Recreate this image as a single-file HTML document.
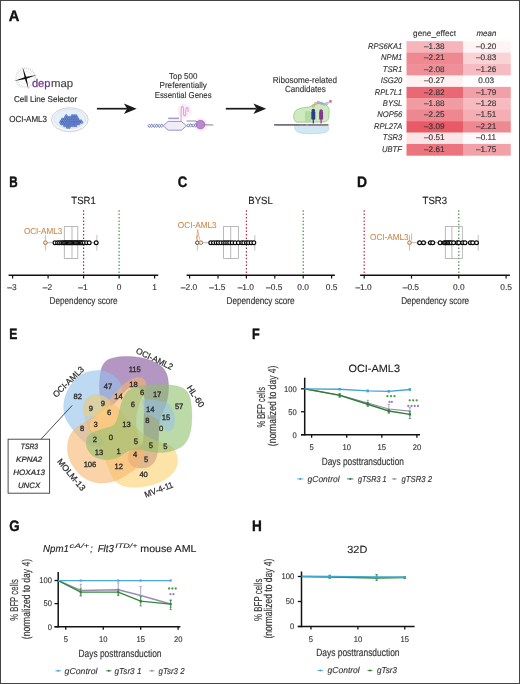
<!DOCTYPE html>
<html><head><meta charset="utf-8"><title>Figure</title>
<style>
html,body{margin:0;padding:0;background:#fff;}
body{width:520px;height:684px;overflow:hidden;}
svg{display:block;will-change:transform;text-rendering:geometricPrecision;font-family:"Liberation Sans",sans-serif;}
</style></head><body>
<svg width="520" height="684" viewBox="0 0 520 684">
<rect x="0" y="0" width="520" height="684" fill="#fff"/>
<text font-size="15.10" font-weight="bold" fill="#111" stroke="#111" stroke-width="0.359" transform="translate(8.70 20.70) scale(0.9750 1)">A</text>
<circle cx="25.6" cy="77.6" r="9.3" fill="none" stroke="#d0d0d0" stroke-width="2.0" stroke-dasharray="0.8 1.3"/>
<circle cx="25.6" cy="77.6" r="6.5" fill="none" stroke="#e2e2e2" stroke-width="0.6"/>
<path d="M16.6,82.6 a10,10 0 0 0 6,5" fill="none" stroke="#d5ece6" stroke-width="1.0"/>
<path d="M14.00,81.00 L25.64,78.92 L36.80,75.00 L25.16,77.08Z" fill="#111"/>
<path d="M22.60,67.00 L24.68,78.35 L28.60,89.20 L26.52,77.85Z" fill="#111"/>
<text font-size="11.20" fill="#6f3691" stroke="#6f3691" stroke-width="0.250" transform="translate(31.90 87.30) scale(0.9998 1)">dep</text>
<text font-size="11.20" fill="#4a4a4a" stroke="#4a4a4a" stroke-width="0.196" transform="translate(51.00 87.30) scale(1.0191 1)">map</text>
<text font-size="8.50" fill="#333" stroke="#333" stroke-width="0.189" transform="translate(13.90 101.60) scale(0.9499 1)">Cell Line Selector</text>
<text font-size="8.70" fill="#333" stroke="#333" stroke-width="0.196" transform="translate(9.20 121.90) scale(0.9195 1)">OCI-AML3</text>
<ellipse cx="69.8" cy="119.7" rx="18.4" ry="12.0" fill="#f4f6f8" stroke="#cdd3d8" stroke-width="1.0"/>
<ellipse cx="69.8" cy="119.0" rx="16.0" ry="9.6" fill="#e6f0fa" stroke="#d5dde5" stroke-width="0.7"/>
<circle cx="66.30" cy="115.60" r="1.0" fill="#86a2e2" stroke="#2f4da5" stroke-width="0.5"/>
<circle cx="72.15" cy="115.60" r="1.0" fill="#86a2e2" stroke="#2f4da5" stroke-width="0.5"/>
<circle cx="74.10" cy="115.60" r="1.0" fill="#86a2e2" stroke="#2f4da5" stroke-width="0.5"/>
<circle cx="76.05" cy="115.60" r="1.0" fill="#86a2e2" stroke="#2f4da5" stroke-width="0.5"/>
<circle cx="65.32" cy="117.30" r="1.0" fill="#86a2e2" stroke="#2f4da5" stroke-width="0.5"/>
<circle cx="67.27" cy="117.30" r="1.0" fill="#86a2e2" stroke="#2f4da5" stroke-width="0.5"/>
<circle cx="69.22" cy="117.30" r="1.0" fill="#86a2e2" stroke="#2f4da5" stroke-width="0.5"/>
<circle cx="71.17" cy="117.30" r="1.0" fill="#86a2e2" stroke="#2f4da5" stroke-width="0.5"/>
<circle cx="73.12" cy="117.30" r="1.0" fill="#86a2e2" stroke="#2f4da5" stroke-width="0.5"/>
<circle cx="75.07" cy="117.30" r="1.0" fill="#86a2e2" stroke="#2f4da5" stroke-width="0.5"/>
<circle cx="77.02" cy="117.30" r="1.0" fill="#86a2e2" stroke="#2f4da5" stroke-width="0.5"/>
<circle cx="62.40" cy="119.00" r="1.0" fill="#86a2e2" stroke="#2f4da5" stroke-width="0.5"/>
<circle cx="64.35" cy="119.00" r="1.0" fill="#86a2e2" stroke="#2f4da5" stroke-width="0.5"/>
<circle cx="66.30" cy="119.00" r="1.0" fill="#86a2e2" stroke="#2f4da5" stroke-width="0.5"/>
<circle cx="68.25" cy="119.00" r="1.0" fill="#86a2e2" stroke="#2f4da5" stroke-width="0.5"/>
<circle cx="70.20" cy="119.00" r="1.0" fill="#86a2e2" stroke="#2f4da5" stroke-width="0.5"/>
<circle cx="72.15" cy="119.00" r="1.0" fill="#86a2e2" stroke="#2f4da5" stroke-width="0.5"/>
<circle cx="74.10" cy="119.00" r="1.0" fill="#86a2e2" stroke="#2f4da5" stroke-width="0.5"/>
<circle cx="76.05" cy="119.00" r="1.0" fill="#86a2e2" stroke="#2f4da5" stroke-width="0.5"/>
<circle cx="78.00" cy="119.00" r="1.0" fill="#86a2e2" stroke="#2f4da5" stroke-width="0.5"/>
<circle cx="61.43" cy="120.70" r="1.0" fill="#86a2e2" stroke="#2f4da5" stroke-width="0.5"/>
<circle cx="63.38" cy="120.70" r="1.0" fill="#86a2e2" stroke="#2f4da5" stroke-width="0.5"/>
<circle cx="65.32" cy="120.70" r="1.0" fill="#86a2e2" stroke="#2f4da5" stroke-width="0.5"/>
<circle cx="67.27" cy="120.70" r="1.0" fill="#86a2e2" stroke="#2f4da5" stroke-width="0.5"/>
<circle cx="69.22" cy="120.70" r="1.0" fill="#86a2e2" stroke="#2f4da5" stroke-width="0.5"/>
<circle cx="71.17" cy="120.70" r="1.0" fill="#86a2e2" stroke="#2f4da5" stroke-width="0.5"/>
<circle cx="73.12" cy="120.70" r="1.0" fill="#86a2e2" stroke="#2f4da5" stroke-width="0.5"/>
<circle cx="75.07" cy="120.70" r="1.0" fill="#86a2e2" stroke="#2f4da5" stroke-width="0.5"/>
<circle cx="77.02" cy="120.70" r="1.0" fill="#86a2e2" stroke="#2f4da5" stroke-width="0.5"/>
<circle cx="78.97" cy="120.70" r="1.0" fill="#86a2e2" stroke="#2f4da5" stroke-width="0.5"/>
<circle cx="80.92" cy="120.70" r="1.0" fill="#86a2e2" stroke="#2f4da5" stroke-width="0.5"/>
<circle cx="60.45" cy="122.40" r="1.0" fill="#86a2e2" stroke="#2f4da5" stroke-width="0.5"/>
<circle cx="62.40" cy="122.40" r="1.0" fill="#86a2e2" stroke="#2f4da5" stroke-width="0.5"/>
<circle cx="64.35" cy="122.40" r="1.0" fill="#86a2e2" stroke="#2f4da5" stroke-width="0.5"/>
<circle cx="66.30" cy="122.40" r="1.0" fill="#86a2e2" stroke="#2f4da5" stroke-width="0.5"/>
<circle cx="68.25" cy="122.40" r="1.0" fill="#86a2e2" stroke="#2f4da5" stroke-width="0.5"/>
<circle cx="70.20" cy="122.40" r="1.0" fill="#86a2e2" stroke="#2f4da5" stroke-width="0.5"/>
<circle cx="72.15" cy="122.40" r="1.0" fill="#86a2e2" stroke="#2f4da5" stroke-width="0.5"/>
<circle cx="74.10" cy="122.40" r="1.0" fill="#86a2e2" stroke="#2f4da5" stroke-width="0.5"/>
<circle cx="76.05" cy="122.40" r="1.0" fill="#86a2e2" stroke="#2f4da5" stroke-width="0.5"/>
<circle cx="78.00" cy="122.40" r="1.0" fill="#86a2e2" stroke="#2f4da5" stroke-width="0.5"/>
<circle cx="79.95" cy="122.40" r="1.0" fill="#86a2e2" stroke="#2f4da5" stroke-width="0.5"/>
<circle cx="81.90" cy="122.40" r="1.0" fill="#86a2e2" stroke="#2f4da5" stroke-width="0.5"/>
<circle cx="61.43" cy="124.10" r="1.0" fill="#86a2e2" stroke="#2f4da5" stroke-width="0.5"/>
<circle cx="63.38" cy="124.10" r="1.0" fill="#86a2e2" stroke="#2f4da5" stroke-width="0.5"/>
<circle cx="65.32" cy="124.10" r="1.0" fill="#86a2e2" stroke="#2f4da5" stroke-width="0.5"/>
<circle cx="67.27" cy="124.10" r="1.0" fill="#86a2e2" stroke="#2f4da5" stroke-width="0.5"/>
<circle cx="69.22" cy="124.10" r="1.0" fill="#86a2e2" stroke="#2f4da5" stroke-width="0.5"/>
<circle cx="71.17" cy="124.10" r="1.0" fill="#86a2e2" stroke="#2f4da5" stroke-width="0.5"/>
<circle cx="73.12" cy="124.10" r="1.0" fill="#86a2e2" stroke="#2f4da5" stroke-width="0.5"/>
<circle cx="75.07" cy="124.10" r="1.0" fill="#86a2e2" stroke="#2f4da5" stroke-width="0.5"/>
<circle cx="77.02" cy="124.10" r="1.0" fill="#86a2e2" stroke="#2f4da5" stroke-width="0.5"/>
<circle cx="78.97" cy="124.10" r="1.0" fill="#86a2e2" stroke="#2f4da5" stroke-width="0.5"/>
<circle cx="64.35" cy="125.80" r="1.0" fill="#86a2e2" stroke="#2f4da5" stroke-width="0.5"/>
<circle cx="66.30" cy="125.80" r="1.0" fill="#86a2e2" stroke="#2f4da5" stroke-width="0.5"/>
<circle cx="68.25" cy="125.80" r="1.0" fill="#86a2e2" stroke="#2f4da5" stroke-width="0.5"/>
<circle cx="70.20" cy="125.80" r="1.0" fill="#86a2e2" stroke="#2f4da5" stroke-width="0.5"/>
<circle cx="72.15" cy="125.80" r="1.0" fill="#86a2e2" stroke="#2f4da5" stroke-width="0.5"/>
<circle cx="74.10" cy="125.80" r="1.0" fill="#86a2e2" stroke="#2f4da5" stroke-width="0.5"/>
<circle cx="76.05" cy="125.80" r="1.0" fill="#86a2e2" stroke="#2f4da5" stroke-width="0.5"/>
<circle cx="67.27" cy="127.50" r="1.0" fill="#86a2e2" stroke="#2f4da5" stroke-width="0.5"/>
<circle cx="69.22" cy="127.50" r="1.0" fill="#86a2e2" stroke="#2f4da5" stroke-width="0.5"/>
<line x1="96.9" y1="108.7" x2="126.89999999999999" y2="108.7" stroke="#1a1a1a" stroke-width="1.7"/><path d="M136.7,108.7 L123.89999999999999,103.4 L127.1,108.7 L123.89999999999999,114.0 Z" fill="#1a1a1a"/>
<line x1="225.8" y1="108.7" x2="256.4" y2="108.7" stroke="#1a1a1a" stroke-width="1.7"/><path d="M266.2,108.7 L253.39999999999998,103.4 L256.59999999999997,108.7 L253.39999999999998,114.0 Z" fill="#1a1a1a"/>
<text font-size="8.60" fill="#333" stroke="#333" stroke-width="0.129" transform="translate(169.00 78.50) scale(0.9309 1)">Top 500</text>
<text font-size="8.60" fill="#333" stroke="#333" stroke-width="0.127" transform="translate(159.50 88.20) scale(0.9446 1)">Preferentially</text>
<text font-size="8.60" fill="#333" stroke="#333" stroke-width="0.132" transform="translate(154.70 98.00) scale(0.9088 1)">Essential Genes</text>
<circle cx="184.5" cy="111.0" r="7.2" fill="#faeef8"/>
<circle cx="200.5" cy="124.6" r="6.5" fill="#f6e8f5"/>
<polyline points="148.00,125.80 148.33,126.45 148.67,126.99 149.00,127.32 149.33,127.39 149.67,127.19 150.00,126.74 150.33,126.13 150.67,125.47 151.00,124.86 151.33,124.41 151.67,124.21 152.00,124.28 152.33,124.61 152.67,125.15 153.00,125.80 153.33,126.45 153.67,126.99 154.00,127.32 154.33,127.39 154.67,127.19 155.00,126.74 155.33,126.13 155.67,125.47 156.00,124.86 156.33,124.41 156.67,124.21 157.00,124.28 157.33,124.61 157.67,125.15 158.00,125.80 158.33,126.45 158.67,126.99 159.00,127.32 159.33,127.39 159.67,127.19 160.00,126.74 160.33,126.13 160.67,125.47 161.00,124.86 161.33,124.41 161.67,124.21 162.00,124.28 162.33,124.61 162.67,125.15 163.00,125.80" fill="none" stroke="#4f5f9c" stroke-width="0.9"/><polyline points="148.00,125.80 148.33,125.15 148.67,124.61 149.00,124.28 149.33,124.21 149.67,124.41 150.00,124.86 150.33,125.47 150.67,126.13 151.00,126.74 151.33,127.19 151.67,127.39 152.00,127.32 152.33,126.99 152.67,126.45 153.00,125.80 153.33,125.15 153.67,124.61 154.00,124.28 154.33,124.21 154.67,124.41 155.00,124.86 155.33,125.47 155.67,126.13 156.00,126.74 156.33,127.19 156.67,127.39 157.00,127.32 157.33,126.99 157.67,126.45 158.00,125.80 158.33,125.15 158.67,124.61 159.00,124.28 159.33,124.21 159.67,124.41 160.00,124.86 160.33,125.47 160.67,126.13 161.00,126.74 161.33,127.19 161.67,127.39 162.00,127.32 162.33,126.99 162.67,126.45 163.00,125.80" fill="none" stroke="#7d85c0" stroke-width="0.9"/>
<polyline points="187.00,125.40 187.33,126.05 187.67,126.59 188.00,126.92 188.33,126.99 188.67,126.79 189.00,126.34 189.33,125.73 189.67,125.07 190.00,124.46 190.33,124.01 190.67,123.81 191.00,123.88 191.33,124.21 191.67,124.75 192.00,125.40 192.33,126.05 192.67,126.59 193.00,126.92 193.33,126.99 193.67,126.79 194.00,126.34 194.33,125.73 194.67,125.07 195.00,124.46 195.33,124.01 195.67,123.81 196.00,123.88 196.33,124.21 196.67,124.75 197.00,125.40" fill="none" stroke="#4f5f9c" stroke-width="0.9"/><polyline points="187.00,125.40 187.33,124.75 187.67,124.21 188.00,123.88 188.33,123.81 188.67,124.01 189.00,124.46 189.33,125.07 189.67,125.73 190.00,126.34 190.33,126.79 190.67,126.99 191.00,126.92 191.33,126.59 191.67,126.05 192.00,125.40 192.33,124.75 192.67,124.21 193.00,123.88 193.33,123.81 193.67,124.01 194.00,124.46 194.33,125.07 194.67,125.73 195.00,126.34 195.33,126.79 195.67,126.99 196.00,126.92 196.33,126.59 196.67,126.05 197.00,125.40" fill="none" stroke="#7d85c0" stroke-width="0.9"/>
<path d="M163.2,125.8 L168.2,121.4 L181.4,121.4 L186.6,125.8 L181.4,130.2 L168.2,130.2 Z" fill="#f1edf8" stroke="#8f86b5" stroke-width="0.9"/>
<line x1="168.2" y1="118.4" x2="179.0" y2="118.4" stroke="#a99cc6" stroke-width="1.6"/>
<path d="M181.0,121.0 L181.2,108.5 C181.4,105.6 183.4,105.6 183.5,108.5 L183.6,114 C183.7,116.5 185.6,116.5 185.7,114 L185.8,109.5 C186,107 188,107 188.1,109.5 L188.2,112" fill="none" stroke="#dca3d4" stroke-width="1.1"/>
<path d="M186.6,121.0 L195.5,121.0 L200,123" fill="none" stroke="#6f6f8f" stroke-width="0.8"/>
<line x1="203" y1="124.8" x2="213.3" y2="125.0" stroke="#7a6a9a" stroke-width="0.9"/>
<circle cx="200.5" cy="124.6" r="4.1" fill="#b889cf" stroke="#9b63b8" stroke-width="0.8"/>
<text font-size="8.80" fill="#333" stroke="#333" stroke-width="0.130" transform="translate(272.70 83.20) scale(0.9255 1)">Ribosome-related</text>
<text font-size="8.80" fill="#333" stroke="#333" stroke-width="0.131" transform="translate(285.00 92.40) scale(0.9163 1)">Candidates</text>
<path d="M295,124.8 C293.5,128.5 296,132.8 302,133.2 C309,134 319,133.8 325,132.6 C329.5,131.5 329.5,126.5 327,124.8 Z" fill="#cfe8f2" stroke="#aed4e4" stroke-width="0.7"/>
<path d="M294.2,119.5 C292.5,114 295,109.5 300,108.6 C304,107.2 308.5,107.6 311,106.3 C313.5,103.4 320,102.4 324.5,104 C329,105.8 330,110.5 328.8,114.5 C329.5,118.5 327.5,121.6 324,122 L297,122.2 C295.5,121.8 294.6,120.8 294.2,119.5 Z" fill="#cfeac0" stroke="#93c884" stroke-width="0.8"/>
<rect x="305.3" y="111.8" width="5.2" height="9.6" fill="#b3dca2" stroke="#9fd08e" stroke-width="0.4"/>
<line x1="274" y1="124.9" x2="328.5" y2="124.9" stroke="#857a88" stroke-width="1.6"/>
<line x1="301" y1="124.0" x2="301" y2="125.8" stroke="#e05a6a" stroke-width="1.1"/>
<line x1="304" y1="124.0" x2="304" y2="125.8" stroke="#4a6fc0" stroke-width="1.1"/>
<line x1="307" y1="124.0" x2="307" y2="125.8" stroke="#e8a040" stroke-width="1.1"/>
<line x1="310" y1="124.0" x2="310" y2="125.8" stroke="#9c5bb0" stroke-width="1.1"/>
<line x1="313" y1="124.0" x2="313" y2="125.8" stroke="#e05a6a" stroke-width="1.1"/>
<line x1="316" y1="124.0" x2="316" y2="125.8" stroke="#4a9fd0" stroke-width="1.1"/>
<line x1="319" y1="124.0" x2="319" y2="125.8" stroke="#e06080" stroke-width="1.1"/>
<line x1="322" y1="124.0" x2="322" y2="125.8" stroke="#6aa050" stroke-width="1.1"/>
<line x1="325" y1="124.0" x2="325" y2="125.8" stroke="#e05a6a" stroke-width="1.1"/>
<line x1="276" y1="124.2" x2="277" y2="125.7" stroke="#5a5060" stroke-width="0.6"/>
<line x1="278" y1="124.2" x2="279" y2="125.7" stroke="#5a5060" stroke-width="0.6"/>
<line x1="280" y1="124.2" x2="281" y2="125.7" stroke="#5a5060" stroke-width="0.6"/>
<line x1="282" y1="124.2" x2="283" y2="125.7" stroke="#5a5060" stroke-width="0.6"/>
<line x1="284" y1="124.2" x2="285" y2="125.7" stroke="#5a5060" stroke-width="0.6"/>
<line x1="286" y1="124.2" x2="287" y2="125.7" stroke="#5a5060" stroke-width="0.6"/>
<line x1="288" y1="124.2" x2="289" y2="125.7" stroke="#5a5060" stroke-width="0.6"/>
<line x1="290" y1="124.2" x2="291" y2="125.7" stroke="#5a5060" stroke-width="0.6"/>
<line x1="292" y1="124.2" x2="293" y2="125.7" stroke="#5a5060" stroke-width="0.6"/>
<line x1="294" y1="124.2" x2="295" y2="125.7" stroke="#5a5060" stroke-width="0.6"/>
<line x1="296" y1="124.2" x2="297" y2="125.7" stroke="#5a5060" stroke-width="0.6"/>
<line x1="298" y1="124.2" x2="299" y2="125.7" stroke="#5a5060" stroke-width="0.6"/>
<rect x="311.3" y="111.2" width="4.0" height="8.6" rx="1" fill="#2d3b8c"/>
<circle cx="313.3" cy="110.6" r="1.8" fill="#2d3b8c"/>
<line x1="313.3" y1="119.5" x2="313.3" y2="123.5" stroke="#2d3b8c" stroke-width="1.2"/>
<rect x="319.1" y="111.6" width="4.0" height="8.2" rx="1" fill="#86388f"/>
<circle cx="321.1" cy="111.0" r="1.8" fill="#86388f"/>
<line x1="321.1" y1="119.5" x2="321.1" y2="123.5" stroke="#86388f" stroke-width="1.2"/>
<line x1="313.3" y1="106.0" x2="315.6" y2="103.6" stroke="#9a9aaa" stroke-width="0.5"/>
<line x1="315.6" y1="103.6" x2="318.3" y2="102.4" stroke="#9a9aaa" stroke-width="0.5"/>
<line x1="318.3" y1="102.4" x2="321.5" y2="103.2" stroke="#9a9aaa" stroke-width="0.5"/>
<line x1="321.5" y1="103.2" x2="324.2" y2="104.2" stroke="#9a9aaa" stroke-width="0.5"/>
<line x1="324.2" y1="104.2" x2="327.0" y2="103.4" stroke="#9a9aaa" stroke-width="0.5"/>
<line x1="327.0" y1="103.4" x2="330.4" y2="101.4" stroke="#9a9aaa" stroke-width="0.5"/>
<circle cx="313.3" cy="106.0" r="1.3" fill="#e8d24a" stroke="#8a7a9a" stroke-width="0.3"/>
<circle cx="315.6" cy="103.6" r="1.3" fill="#e8d24a" stroke="#8a7a9a" stroke-width="0.3"/>
<circle cx="318.3" cy="102.4" r="1.3" fill="#c9a6e0" stroke="#8a7a9a" stroke-width="0.3"/>
<circle cx="321.5" cy="103.2" r="1.3" fill="#9db6e8" stroke="#8a7a9a" stroke-width="0.3"/>
<circle cx="324.2" cy="104.2" r="1.3" fill="#a7d8a0" stroke="#8a7a9a" stroke-width="0.3"/>
<circle cx="327.0" cy="103.4" r="1.3" fill="#bfd4ef" stroke="#8a7a9a" stroke-width="0.3"/>
<circle cx="330.4" cy="101.4" r="1.3" fill="#e46aa6" stroke="#8a7a9a" stroke-width="0.3"/>
<rect x="406.5" y="41.20" width="56.80" height="11.72" fill="#f5b5bb"/>
<rect x="463.0" y="41.20" width="47.80" height="11.72" fill="#fef4f5"/>
<rect x="406.5" y="52.62" width="56.80" height="11.72" fill="#ee8992"/>
<rect x="463.0" y="52.62" width="47.80" height="11.72" fill="#f9d3d6"/>
<rect x="406.5" y="64.04" width="56.80" height="11.72" fill="#ef9098"/>
<rect x="463.0" y="64.04" width="47.80" height="11.72" fill="#f6bcc1"/>
<rect x="406.5" y="75.46" width="56.80" height="11.72" fill="#fdf1f2"/>
<rect x="463.0" y="75.46" width="47.80" height="11.72" fill="#ffffff"/>
<rect x="406.5" y="86.88" width="56.80" height="11.72" fill="#ea6874"/>
<rect x="463.0" y="86.88" width="47.80" height="11.72" fill="#f29fa7"/>
<rect x="406.5" y="98.30" width="56.80" height="11.72" fill="#f19ba2"/>
<rect x="463.0" y="98.30" width="47.80" height="11.72" fill="#f5bbc0"/>
<rect x="406.5" y="109.72" width="56.80" height="11.72" fill="#ee8790"/>
<rect x="463.0" y="109.72" width="47.80" height="11.72" fill="#f4aeb4"/>
<rect x="406.5" y="121.14" width="56.80" height="11.72" fill="#e85a66"/>
<rect x="463.0" y="121.14" width="47.80" height="11.72" fill="#ee8992"/>
<rect x="406.5" y="132.56" width="56.80" height="11.72" fill="#fbe4e6"/>
<rect x="463.0" y="132.56" width="47.80" height="11.72" fill="#fef9fa"/>
<rect x="406.5" y="143.98" width="56.80" height="11.72" fill="#eb747e"/>
<rect x="463.0" y="143.98" width="47.80" height="11.72" fill="#f2a1a9"/>
<text font-size="8.20" font-style="italic" fill="#333" stroke="#333" stroke-width="0.129" transform="translate(367.94 48.90) scale(0.9300 1)">RPS6KA1</text>
<text font-size="8.20" fill="#333" stroke="#333" stroke-width="0.120" transform="translate(424.03 48.90) scale(1.0000 1)">–1.38</text>
<text font-size="8.20" fill="#333" stroke="#333" stroke-width="0.120" transform="translate(475.93 48.90) scale(1.0000 1)">–0.20</text>
<text font-size="8.20" font-style="italic" fill="#333" stroke="#333" stroke-width="0.129" transform="translate(381.10 60.32) scale(0.9300 1)">NPM1</text>
<text font-size="8.20" fill="#333" stroke="#333" stroke-width="0.120" transform="translate(424.03 60.32) scale(1.0000 1)">–2.21</text>
<text font-size="8.20" fill="#333" stroke="#333" stroke-width="0.120" transform="translate(475.93 60.32) scale(1.0000 1)">–0.83</text>
<text font-size="8.20" font-style="italic" fill="#333" stroke="#333" stroke-width="0.129" transform="translate(382.82 71.74) scale(0.9300 1)">TSR1</text>
<text font-size="8.20" fill="#333" stroke="#333" stroke-width="0.120" transform="translate(424.03 71.74) scale(1.0000 1)">–2.08</text>
<text font-size="8.20" fill="#333" stroke="#333" stroke-width="0.120" transform="translate(475.93 71.74) scale(1.0000 1)">–1.26</text>
<text font-size="8.20" font-style="italic" fill="#333" stroke="#333" stroke-width="0.129" transform="translate(380.68 83.16) scale(0.9300 1)">ISG20</text>
<text font-size="8.20" fill="#333" stroke="#333" stroke-width="0.120" transform="translate(424.03 83.16) scale(1.0000 1)">–0.27</text>
<text font-size="8.20" fill="#333" stroke="#333" stroke-width="0.120" transform="translate(478.23 83.16) scale(1.0000 1)">0.03</text>
<text font-size="8.20" font-style="italic" fill="#333" stroke="#333" stroke-width="0.129" transform="translate(374.73 94.58) scale(0.9300 1)">RPL7L1</text>
<text font-size="8.20" fill="#333" stroke="#333" stroke-width="0.120" transform="translate(424.03 94.58) scale(1.0000 1)">–2.82</text>
<text font-size="8.20" fill="#333" stroke="#333" stroke-width="0.120" transform="translate(475.93 94.58) scale(1.0000 1)">–1.79</text>
<text font-size="8.20" font-style="italic" fill="#333" stroke="#333" stroke-width="0.129" transform="translate(382.82 106.00) scale(0.9300 1)">BYSL</text>
<text font-size="8.20" fill="#333" stroke="#333" stroke-width="0.120" transform="translate(424.03 106.00) scale(1.0000 1)">–1.88</text>
<text font-size="8.20" fill="#333" stroke="#333" stroke-width="0.120" transform="translate(475.93 106.00) scale(1.0000 1)">–1.28</text>
<text font-size="8.20" font-style="italic" fill="#333" stroke="#333" stroke-width="0.129" transform="translate(377.25 117.42) scale(0.9300 1)">NOP56</text>
<text font-size="8.20" fill="#333" stroke="#333" stroke-width="0.120" transform="translate(424.03 117.42) scale(1.0000 1)">–2.25</text>
<text font-size="8.20" fill="#333" stroke="#333" stroke-width="0.120" transform="translate(475.93 117.42) scale(1.0000 1)">–1.51</text>
<text font-size="8.20" font-style="italic" fill="#333" stroke="#333" stroke-width="0.129" transform="translate(373.89 128.84) scale(0.9300 1)">RPL27A</text>
<text font-size="8.20" fill="#333" stroke="#333" stroke-width="0.120" transform="translate(424.03 128.84) scale(1.0000 1)">–3.09</text>
<text font-size="8.20" fill="#333" stroke="#333" stroke-width="0.120" transform="translate(475.93 128.84) scale(1.0000 1)">–2.21</text>
<text font-size="8.20" font-style="italic" fill="#333" stroke="#333" stroke-width="0.129" transform="translate(382.82 140.26) scale(0.9300 1)">TSR3</text>
<text font-size="8.20" fill="#333" stroke="#333" stroke-width="0.120" transform="translate(424.03 140.26) scale(1.0000 1)">–0.51</text>
<text font-size="8.20" fill="#333" stroke="#333" stroke-width="0.120" transform="translate(476.24 140.26) scale(1.0000 1)">–0.11</text>
<text font-size="8.20" font-style="italic" fill="#333" stroke="#333" stroke-width="0.129" transform="translate(382.01 151.68) scale(0.9300 1)">UBTF</text>
<text font-size="8.20" fill="#333" stroke="#333" stroke-width="0.120" transform="translate(424.03 151.68) scale(1.0000 1)">–2.61</text>
<text font-size="8.20" fill="#333" stroke="#333" stroke-width="0.120" transform="translate(475.93 151.68) scale(1.0000 1)">–1.75</text>
<text font-size="8.20" fill="#333" stroke="#333" stroke-width="0.120" transform="translate(413.10 35.60) scale(1.0042 1)">gene_effect</text>
<text font-size="8.20" font-style="italic" fill="#333" stroke="#333" stroke-width="0.124" transform="translate(476.50 35.60) scale(0.9659 1)">mean</text>
<text font-size="15.10" font-weight="bold" fill="#111" stroke="#111" stroke-width="0.453" transform="translate(9.20 187.10) scale(0.7726 1)">B</text>
<text font-size="10.40" fill="#222" stroke="#222" stroke-width="0.130" transform="translate(71.35 203.60) scale(0.9220 1)">TSR1</text>
<line x1="83.60" y1="210.2" x2="83.60" y2="275.3" stroke="#b3213d" stroke-width="1.15" stroke-dasharray="1.5 1.9"/>
<line x1="119.10" y1="210.2" x2="119.10" y2="275.3" stroke="#3d8b3d" stroke-width="1.15" stroke-dasharray="1.5 1.9"/>
<rect x="64.3" y="226.6" width="13.5" height="31.900000000000006" fill="none" stroke="#a8a8a8" stroke-width="0.8"/>
<line x1="72.0" y1="226.6" x2="72.0" y2="258.5" stroke="#a8a8a8" stroke-width="0.8"/>
<line x1="45.4" y1="242.7" x2="96.9" y2="242.7" stroke="#9a9a9a" stroke-width="0.7"/>
<line x1="45.4" y1="235" x2="45.4" y2="250.6" stroke="#a5a5a5" stroke-width="0.7"/>
<line x1="96.9" y1="235" x2="96.9" y2="250.6" stroke="#a5a5a5" stroke-width="0.7"/>
<circle cx="55.0" cy="242.7" r="1.9" fill="#fff" stroke="#0a0a0a" stroke-width="1.2"/>
<circle cx="57.6" cy="242.7" r="1.9" fill="#fff" stroke="#0a0a0a" stroke-width="1.2"/>
<circle cx="59.6" cy="242.7" r="1.9" fill="#fff" stroke="#0a0a0a" stroke-width="1.2"/>
<circle cx="61.6" cy="242.7" r="1.9" fill="#fff" stroke="#0a0a0a" stroke-width="1.2"/>
<circle cx="63.2" cy="242.7" r="1.9" fill="#fff" stroke="#0a0a0a" stroke-width="1.2"/>
<circle cx="64.6" cy="242.7" r="1.9" fill="#fff" stroke="#0a0a0a" stroke-width="1.2"/>
<circle cx="65.8" cy="242.7" r="1.9" fill="#fff" stroke="#0a0a0a" stroke-width="1.2"/>
<circle cx="67.0" cy="242.7" r="1.9" fill="#fff" stroke="#0a0a0a" stroke-width="1.2"/>
<circle cx="68.2" cy="242.7" r="1.9" fill="#fff" stroke="#0a0a0a" stroke-width="1.2"/>
<circle cx="69.4" cy="242.7" r="1.9" fill="#fff" stroke="#0a0a0a" stroke-width="1.2"/>
<circle cx="70.6" cy="242.7" r="1.9" fill="#fff" stroke="#0a0a0a" stroke-width="1.2"/>
<circle cx="71.8" cy="242.7" r="1.9" fill="#fff" stroke="#0a0a0a" stroke-width="1.2"/>
<circle cx="73.0" cy="242.7" r="1.9" fill="#fff" stroke="#0a0a0a" stroke-width="1.2"/>
<circle cx="74.2" cy="242.7" r="1.9" fill="#fff" stroke="#0a0a0a" stroke-width="1.2"/>
<circle cx="75.4" cy="242.7" r="1.9" fill="#fff" stroke="#0a0a0a" stroke-width="1.2"/>
<circle cx="76.6" cy="242.7" r="1.9" fill="#fff" stroke="#0a0a0a" stroke-width="1.2"/>
<circle cx="77.8" cy="242.7" r="1.9" fill="#fff" stroke="#0a0a0a" stroke-width="1.2"/>
<circle cx="79.0" cy="242.7" r="1.9" fill="#fff" stroke="#0a0a0a" stroke-width="1.2"/>
<circle cx="80.2" cy="242.7" r="1.9" fill="#fff" stroke="#0a0a0a" stroke-width="1.2"/>
<circle cx="81.4" cy="242.7" r="1.9" fill="#fff" stroke="#0a0a0a" stroke-width="1.2"/>
<circle cx="82.6" cy="242.7" r="1.9" fill="#fff" stroke="#0a0a0a" stroke-width="1.2"/>
<circle cx="84.2" cy="242.7" r="1.9" fill="#fff" stroke="#0a0a0a" stroke-width="1.2"/>
<circle cx="86.6" cy="242.7" r="1.9" fill="#fff" stroke="#0a0a0a" stroke-width="1.2"/>
<circle cx="89.2" cy="242.7" r="1.9" fill="#fff" stroke="#0a0a0a" stroke-width="1.2"/>
<circle cx="96.2" cy="242.7" r="1.9" fill="#fff" stroke="#0a0a0a" stroke-width="1.2"/>
<circle cx="45.4" cy="242.7" r="1.85" fill="#f6e6d6" stroke="#b5783f" stroke-width="1.0"/>
<text font-size="8.60" fill="#c98a4c" stroke="#c98a4c" stroke-width="0.085" transform="translate(23.90 233.60) scale(0.9450 1)">OCI-AML3</text>

<line x1="8.6" y1="275.3" x2="158.2" y2="275.3" stroke="#111" stroke-width="1.5"/>
<line x1="12.60" y1="275.3" x2="12.60" y2="278.6" stroke="#111" stroke-width="1.2"/>
<text font-size="8.40" fill="#333" stroke="#333" stroke-width="0.120" transform="translate(7.34 289.70) scale(1.0000 1)">–3</text>
<line x1="48.10" y1="275.3" x2="48.10" y2="278.6" stroke="#111" stroke-width="1.2"/>
<text font-size="8.40" fill="#333" stroke="#333" stroke-width="0.120" transform="translate(42.84 289.70) scale(1.0000 1)">–2</text>
<line x1="83.60" y1="275.3" x2="83.60" y2="278.6" stroke="#111" stroke-width="1.2"/>
<text font-size="8.40" fill="#333" stroke="#333" stroke-width="0.120" transform="translate(78.34 289.70) scale(1.0000 1)">–1</text>
<line x1="119.10" y1="275.3" x2="119.10" y2="278.6" stroke="#111" stroke-width="1.2"/>
<text font-size="8.40" fill="#333" stroke="#333" stroke-width="0.120" transform="translate(116.77 289.70) scale(1.0000 1)">0</text>
<line x1="154.60" y1="275.3" x2="154.60" y2="278.6" stroke="#111" stroke-width="1.2"/>
<text font-size="8.40" fill="#333" stroke="#333" stroke-width="0.120" transform="translate(152.27 289.70) scale(1.0000 1)">1</text>
<text font-size="10.00" fill="#333" stroke="#333" stroke-width="0.147" transform="translate(49.60 304.30) scale(0.8153 1)">Dependency score</text>
<text font-size="15.10" font-weight="bold" fill="#111" stroke="#111" stroke-width="0.401" transform="translate(177.80 187.10) scale(0.8738 1)">C</text>
<text font-size="10.40" fill="#222" stroke="#222" stroke-width="0.130" transform="translate(248.25 203.60) scale(0.9220 1)">BYSL</text>
<line x1="246.40" y1="210.2" x2="246.40" y2="275.3" stroke="#b3213d" stroke-width="1.15" stroke-dasharray="1.5 1.9"/>
<line x1="303.20" y1="210.2" x2="303.20" y2="275.3" stroke="#3d8b3d" stroke-width="1.15" stroke-dasharray="1.5 1.9"/>
<rect x="223.6" y="226.6" width="14.800000000000011" height="31.900000000000006" fill="none" stroke="#a8a8a8" stroke-width="0.8"/>
<line x1="230.7" y1="226.6" x2="230.7" y2="258.5" stroke="#a8a8a8" stroke-width="0.8"/>
<line x1="197.3" y1="242.7" x2="254.8" y2="242.7" stroke="#9a9a9a" stroke-width="0.7"/>
<line x1="197.3" y1="235" x2="197.3" y2="250.6" stroke="#a5a5a5" stroke-width="0.7"/>
<line x1="254.8" y1="235" x2="254.8" y2="250.6" stroke="#a5a5a5" stroke-width="0.7"/>
<circle cx="210.8" cy="242.7" r="1.9" fill="#fff" stroke="#0a0a0a" stroke-width="1.2"/>
<circle cx="213.5" cy="242.7" r="1.9" fill="#fff" stroke="#0a0a0a" stroke-width="1.2"/>
<circle cx="216.2" cy="242.7" r="1.9" fill="#fff" stroke="#0a0a0a" stroke-width="1.2"/>
<circle cx="218.4" cy="242.7" r="1.9" fill="#fff" stroke="#0a0a0a" stroke-width="1.2"/>
<circle cx="220.9" cy="242.7" r="1.9" fill="#fff" stroke="#0a0a0a" stroke-width="1.2"/>
<circle cx="223.6" cy="242.7" r="1.9" fill="#fff" stroke="#0a0a0a" stroke-width="1.2"/>
<circle cx="225.6" cy="242.7" r="1.9" fill="#fff" stroke="#0a0a0a" stroke-width="1.2"/>
<circle cx="227.7" cy="242.7" r="1.9" fill="#fff" stroke="#0a0a0a" stroke-width="1.2"/>
<circle cx="229.7" cy="242.7" r="1.9" fill="#fff" stroke="#0a0a0a" stroke-width="1.2"/>
<circle cx="232.2" cy="242.7" r="1.9" fill="#fff" stroke="#0a0a0a" stroke-width="1.2"/>
<circle cx="235.1" cy="242.7" r="1.9" fill="#fff" stroke="#0a0a0a" stroke-width="1.2"/>
<circle cx="238.4" cy="242.7" r="1.9" fill="#fff" stroke="#0a0a0a" stroke-width="1.2"/>
<circle cx="241.8" cy="242.7" r="1.9" fill="#fff" stroke="#0a0a0a" stroke-width="1.2"/>
<circle cx="243.8" cy="242.7" r="1.9" fill="#fff" stroke="#0a0a0a" stroke-width="1.2"/>
<circle cx="246.5" cy="242.7" r="1.9" fill="#fff" stroke="#0a0a0a" stroke-width="1.2"/>
<circle cx="248.5" cy="242.7" r="1.9" fill="#fff" stroke="#0a0a0a" stroke-width="1.2"/>
<circle cx="251.2" cy="242.7" r="1.9" fill="#fff" stroke="#0a0a0a" stroke-width="1.2"/>
<circle cx="253.9" cy="242.7" r="1.9" fill="#fff" stroke="#0a0a0a" stroke-width="1.2"/>
<text font-size="8.60" fill="#c98a4c" stroke="#c98a4c" stroke-width="0.084" transform="translate(177.80 228.20) scale(0.9573 1)">OCI-AML3</text>
<path d="M196.3,239.6 L197.7,229.6 L199.6,239.6" fill="none" stroke="#c58443" stroke-width="0.6"/><circle cx="197.3" cy="242.7" r="1.75" fill="#fff" stroke="#333" stroke-width="0.95"/><circle cx="200.8" cy="242.7" r="1.85" fill="#f6e6d6" stroke="#b5783f" stroke-width="1.0"/>
<line x1="186.6" y1="275.3" x2="334.9" y2="275.3" stroke="#111" stroke-width="1.5"/>
<line x1="189.60" y1="275.3" x2="189.60" y2="278.6" stroke="#111" stroke-width="1.2"/>
<text font-size="8.40" fill="#333" stroke="#333" stroke-width="0.120" transform="translate(180.83 289.70) scale(1.0000 1)">–2.0</text>
<line x1="218.00" y1="275.3" x2="218.00" y2="278.6" stroke="#111" stroke-width="1.2"/>
<text font-size="8.40" fill="#333" stroke="#333" stroke-width="0.120" transform="translate(209.23 289.70) scale(1.0000 1)">–1.5</text>
<line x1="246.40" y1="275.3" x2="246.40" y2="278.6" stroke="#111" stroke-width="1.2"/>
<text font-size="8.40" fill="#333" stroke="#333" stroke-width="0.120" transform="translate(237.63 289.70) scale(1.0000 1)">–1.0</text>
<line x1="274.80" y1="275.3" x2="274.80" y2="278.6" stroke="#111" stroke-width="1.2"/>
<text font-size="8.40" fill="#333" stroke="#333" stroke-width="0.120" transform="translate(266.03 289.70) scale(1.0000 1)">–0.5</text>
<line x1="303.20" y1="275.3" x2="303.20" y2="278.6" stroke="#111" stroke-width="1.2"/>
<text font-size="8.40" fill="#333" stroke="#333" stroke-width="0.120" transform="translate(297.36 289.70) scale(1.0000 1)">0.0</text>
<line x1="331.60" y1="275.3" x2="331.60" y2="278.6" stroke="#111" stroke-width="1.2"/>
<text font-size="8.40" fill="#333" stroke="#333" stroke-width="0.120" transform="translate(325.76 289.70) scale(1.0000 1)">0.5</text>
<text font-size="10.00" fill="#333" stroke="#333" stroke-width="0.147" transform="translate(226.60 304.30) scale(0.8153 1)">Dependency score</text>
<text font-size="15.10" font-weight="bold" fill="#111" stroke="#111" stroke-width="0.381" transform="translate(357.10 187.10) scale(0.9198 1)">D</text>
<text font-size="10.40" fill="#222" stroke="#222" stroke-width="0.130" transform="translate(422.55 203.60) scale(0.9220 1)">TSR3</text>
<line x1="364.20" y1="210.2" x2="364.20" y2="275.3" stroke="#b3213d" stroke-width="1.15" stroke-dasharray="1.5 1.9"/>
<line x1="458.80" y1="210.2" x2="458.80" y2="275.3" stroke="#3d8b3d" stroke-width="1.15" stroke-dasharray="1.5 1.9"/>
<rect x="445.3" y="226.6" width="17.0" height="31.900000000000006" fill="none" stroke="#a8a8a8" stroke-width="0.8"/>
<line x1="451.9" y1="226.6" x2="451.9" y2="258.5" stroke="#a8a8a8" stroke-width="0.8"/>
<line x1="409.5" y1="242.7" x2="478.2" y2="242.7" stroke="#9a9a9a" stroke-width="0.7"/>
<line x1="409.5" y1="235" x2="409.5" y2="250.6" stroke="#a5a5a5" stroke-width="0.7"/>
<line x1="478.2" y1="235" x2="478.2" y2="250.6" stroke="#a5a5a5" stroke-width="0.7"/>
<circle cx="419.6" cy="242.7" r="1.9" fill="#fff" stroke="#0a0a0a" stroke-width="1.2"/>
<circle cx="423.5" cy="242.7" r="1.9" fill="#fff" stroke="#0a0a0a" stroke-width="1.2"/>
<circle cx="430.4" cy="242.7" r="1.9" fill="#fff" stroke="#0a0a0a" stroke-width="1.2"/>
<circle cx="432.7" cy="242.7" r="1.9" fill="#fff" stroke="#0a0a0a" stroke-width="1.2"/>
<circle cx="440.1" cy="242.7" r="1.9" fill="#fff" stroke="#0a0a0a" stroke-width="1.2"/>
<circle cx="444.2" cy="242.7" r="1.9" fill="#fff" stroke="#0a0a0a" stroke-width="1.2"/>
<circle cx="445.6" cy="242.7" r="1.9" fill="#fff" stroke="#0a0a0a" stroke-width="1.2"/>
<circle cx="447.0" cy="242.7" r="1.9" fill="#fff" stroke="#0a0a0a" stroke-width="1.2"/>
<circle cx="448.4" cy="242.7" r="1.9" fill="#fff" stroke="#0a0a0a" stroke-width="1.2"/>
<circle cx="449.8" cy="242.7" r="1.9" fill="#fff" stroke="#0a0a0a" stroke-width="1.2"/>
<circle cx="451.2" cy="242.7" r="1.9" fill="#fff" stroke="#0a0a0a" stroke-width="1.2"/>
<circle cx="453.6" cy="242.7" r="1.9" fill="#fff" stroke="#0a0a0a" stroke-width="1.2"/>
<circle cx="457.3" cy="242.7" r="1.9" fill="#fff" stroke="#0a0a0a" stroke-width="1.2"/>
<circle cx="458.8" cy="242.7" r="1.9" fill="#fff" stroke="#0a0a0a" stroke-width="1.2"/>
<circle cx="462.7" cy="242.7" r="1.9" fill="#fff" stroke="#0a0a0a" stroke-width="1.2"/>
<circle cx="465.0" cy="242.7" r="1.9" fill="#fff" stroke="#0a0a0a" stroke-width="1.2"/>
<circle cx="470.4" cy="242.7" r="1.9" fill="#fff" stroke="#0a0a0a" stroke-width="1.2"/>
<circle cx="472.7" cy="242.7" r="1.9" fill="#fff" stroke="#0a0a0a" stroke-width="1.2"/>
<circle cx="476.5" cy="242.7" r="1.9" fill="#fff" stroke="#0a0a0a" stroke-width="1.2"/>
<circle cx="409.5" cy="242.7" r="1.85" fill="#f6e6d6" stroke="#b5783f" stroke-width="1.0"/>
<text font-size="8.60" fill="#c98a4c" stroke="#c98a4c" stroke-width="0.084" transform="translate(370.10 240.20) scale(0.9499 1)">OCI-AML3</text>
<line x1="411.6" y1="233.5" x2="411.6" y2="240.6" stroke="#c58443" stroke-width="0.6"/>
<line x1="360.1" y1="275.3" x2="509.9" y2="275.3" stroke="#111" stroke-width="1.5"/>
<line x1="364.20" y1="275.3" x2="364.20" y2="278.6" stroke="#111" stroke-width="1.2"/>
<text font-size="8.40" fill="#333" stroke="#333" stroke-width="0.120" transform="translate(355.43 289.70) scale(1.0000 1)">–1.0</text>
<line x1="411.50" y1="275.3" x2="411.50" y2="278.6" stroke="#111" stroke-width="1.2"/>
<text font-size="8.40" fill="#333" stroke="#333" stroke-width="0.120" transform="translate(402.73 289.70) scale(1.0000 1)">–0.5</text>
<line x1="458.80" y1="275.3" x2="458.80" y2="278.6" stroke="#111" stroke-width="1.2"/>
<text font-size="8.40" fill="#333" stroke="#333" stroke-width="0.120" transform="translate(452.96 289.70) scale(1.0000 1)">0.0</text>
<line x1="506.10" y1="275.3" x2="506.10" y2="278.6" stroke="#111" stroke-width="1.2"/>
<text font-size="8.40" fill="#333" stroke="#333" stroke-width="0.120" transform="translate(500.26 289.70) scale(1.0000 1)">0.5</text>
<text font-size="10.00" fill="#333" stroke="#333" stroke-width="0.147" transform="translate(401.15 304.30) scale(0.8153 1)">Dependency score</text>
<text font-size="15.10" font-weight="bold" fill="#111" stroke="#111" stroke-width="0.434" transform="translate(9.20 339.10) scale(0.8067 1)">E</text>
<g>
<path d="M100.30,375.00 C100.80,371.33 101.22,368.53 102.50,366.00 C103.78,363.47 105.58,361.27 108.00,359.80 C110.42,358.33 113.83,357.73 117.00,357.20 C120.17,356.67 123.00,356.50 127.00,356.60 C131.00,356.70 136.67,356.98 141.00,357.80 C145.33,358.62 149.50,359.97 153.00,361.50 C156.50,363.03 159.67,364.75 162.00,367.00 C164.33,369.25 165.92,371.83 167.00,375.00 C168.08,378.17 168.42,382.17 168.50,386.00 C168.58,389.83 168.17,394.33 167.50,398.00 C166.83,401.67 165.58,405.00 164.50,408.00 C163.42,411.00 161.88,413.17 161.00,416.00 C160.12,418.83 159.60,421.83 159.20,425.00 C158.80,428.17 158.77,431.67 158.60,435.00 C158.43,438.33 158.40,442.00 158.20,445.00 C158.00,448.00 157.97,450.33 157.40,453.00 C156.83,455.67 156.20,458.75 154.80,461.00 C153.40,463.25 151.47,465.33 149.00,466.50 C146.53,467.67 142.83,468.12 140.00,468.00 C137.17,467.88 133.92,467.22 132.00,465.80 C130.08,464.38 128.92,461.80 128.50,459.50 C128.08,457.20 128.42,453.83 129.50,452.00 C130.58,450.17 133.08,449.50 135.00,448.50 C136.92,447.50 139.57,447.58 141.00,446.00 C142.43,444.42 143.13,442.00 143.60,439.00 C144.07,436.00 143.73,431.83 143.80,428.00 C143.87,424.17 143.87,419.83 144.00,416.00 C144.13,412.17 144.52,408.17 144.60,405.00 C144.68,401.83 145.10,399.58 144.50,397.00 C143.90,394.42 142.58,391.20 141.00,389.50 C139.42,387.80 137.17,386.97 135.00,386.80 C132.83,386.63 130.33,386.97 128.00,388.50 C125.67,390.03 123.33,393.50 121.00,396.00 C118.67,398.50 116.50,401.83 114.00,403.50 C111.50,405.17 108.20,406.75 106.00,406.00 C103.80,405.25 101.88,402.00 100.80,399.00 C99.72,396.00 99.58,392.00 99.50,388.00 C99.42,384.00 99.80,378.67 100.30,375.00Z" fill="#825099" fill-opacity="0.6" stroke="#825099" stroke-opacity="0.3" stroke-width="0.8"/>
<path d="M84.00,404.00 C84.70,401.58 86.00,399.08 88.00,397.50 C90.00,395.92 93.00,394.50 96.00,394.50 C99.00,394.50 102.33,395.25 106.00,397.50 C109.67,399.75 113.83,403.75 118.00,408.00 C122.17,412.25 126.33,418.33 131.00,423.00 C135.67,427.67 140.83,432.67 146.00,436.00 C151.17,439.33 157.67,441.17 162.00,443.00 C166.33,444.83 169.50,444.83 172.00,447.00 C174.50,449.17 176.25,452.67 177.00,456.00 C177.75,459.33 177.67,463.67 176.50,467.00 C175.33,470.33 172.92,473.42 170.00,476.00 C167.08,478.58 163.00,480.80 159.00,482.50 C155.00,484.20 150.33,485.40 146.00,486.20 C141.67,487.00 137.17,487.50 133.00,487.30 C128.83,487.10 124.33,486.55 121.00,485.00 C117.67,483.45 115.17,481.17 113.00,478.00 C110.83,474.83 110.00,470.33 108.00,466.00 C106.00,461.67 103.50,456.67 101.00,452.00 C98.50,447.33 95.42,442.83 93.00,438.00 C90.58,433.17 88.03,427.33 86.50,423.00 C84.97,418.67 84.22,415.17 83.80,412.00 C83.38,408.83 83.30,406.42 84.00,404.00Z" fill="#fcd06e" fill-opacity="0.6" stroke="#fcd06e" stroke-opacity="0.3" stroke-width="0.8"/>
<path d="M63.70,406.00 C63.78,402.08 64.57,398.33 66.00,394.50 C67.43,390.67 69.33,386.53 72.30,383.00 C75.27,379.47 79.57,375.40 83.80,373.30 C88.03,371.20 94.00,370.62 97.70,370.40 C101.40,370.18 103.28,371.07 106.00,372.00 C108.72,372.93 111.67,374.17 114.00,376.00 C116.33,377.83 118.67,380.50 120.00,383.00 C121.33,385.50 122.33,388.50 122.00,391.00 C121.67,393.50 119.83,395.67 118.00,398.00 C116.17,400.33 113.50,402.83 111.00,405.00 C108.50,407.17 105.58,409.17 103.00,411.00 C100.42,412.83 97.58,414.17 95.50,416.00 C93.42,417.83 91.42,419.83 90.50,422.00 C89.58,424.17 89.42,427.08 90.00,429.00 C90.58,430.92 92.17,432.08 94.00,433.50 C95.83,434.92 99.50,435.92 101.00,437.50 C102.50,439.08 103.67,441.50 103.00,443.00 C102.33,444.50 99.33,446.25 97.00,446.50 C94.67,446.75 91.67,445.75 89.00,444.50 C86.33,443.25 83.75,441.58 81.00,439.00 C78.25,436.42 75.08,432.50 72.50,429.00 C69.92,425.50 66.97,421.83 65.50,418.00 C64.03,414.17 63.62,409.92 63.70,406.00Z" fill="#93c1e9" fill-opacity="0.6" stroke="#93c1e9" stroke-opacity="0.3" stroke-width="0.8"/>
<path d="M67.50,446.00 C67.75,442.58 68.58,438.50 70.00,435.50 C71.42,432.50 73.17,430.42 76.00,428.00 C78.83,425.58 83.50,423.33 87.00,421.00 C90.50,418.67 93.83,416.83 97.00,414.00 C100.17,411.17 103.00,407.50 106.00,404.00 C109.00,400.50 111.83,396.42 115.00,393.00 C118.17,389.58 121.67,386.00 125.00,383.50 C128.33,381.00 132.08,378.83 135.00,378.00 C137.92,377.17 140.67,377.50 142.50,378.50 C144.33,379.50 145.75,381.58 146.00,384.00 C146.25,386.42 145.17,389.67 144.00,393.00 C142.83,396.33 140.33,399.83 139.00,404.00 C137.67,408.17 136.33,413.33 136.00,418.00 C135.67,422.67 136.17,427.50 137.00,432.00 C137.83,436.50 140.00,441.00 141.00,445.00 C142.00,449.00 143.50,452.50 143.00,456.00 C142.50,459.50 140.50,463.00 138.00,466.00 C135.50,469.00 131.67,471.58 128.00,474.00 C124.33,476.42 120.00,479.00 116.00,480.50 C112.00,482.00 108.00,482.83 104.00,483.00 C100.00,483.17 95.75,482.67 92.00,481.50 C88.25,480.33 84.67,478.58 81.50,476.00 C78.33,473.42 75.17,469.33 73.00,466.00 C70.83,462.67 69.42,459.33 68.50,456.00 C67.58,452.67 67.25,449.42 67.50,446.00Z" fill="#f7b66e" fill-opacity="0.6" stroke="#f7b66e" stroke-opacity="0.3" stroke-width="0.8"/>
<path d="M137.00,386.50 C141.17,385.30 146.50,385.05 152.00,384.80 C157.50,384.55 165.00,384.50 170.00,385.00 C175.00,385.50 178.92,386.30 182.00,387.80 C185.08,389.30 186.97,391.13 188.50,394.00 C190.03,396.87 190.65,400.67 191.20,405.00 C191.75,409.33 192.00,415.33 191.80,420.00 C191.60,424.67 191.13,429.08 190.00,433.00 C188.87,436.92 187.33,440.75 185.00,443.50 C182.67,446.25 179.67,448.00 176.00,449.50 C172.33,451.00 167.33,452.17 163.00,452.50 C158.67,452.83 153.83,452.00 150.00,451.50 C146.17,451.00 143.67,449.58 140.00,449.50 C136.33,449.42 131.67,449.67 128.00,451.00 C124.33,452.33 121.83,456.08 118.00,457.50 C114.17,458.92 109.00,459.67 105.00,459.50 C101.00,459.33 96.92,458.25 94.00,456.50 C91.08,454.75 88.75,451.75 87.50,449.00 C86.25,446.25 85.92,442.58 86.50,440.00 C87.08,437.42 88.25,435.33 91.00,433.50 C93.75,431.67 99.17,430.42 103.00,429.00 C106.83,427.58 111.42,427.33 114.00,425.00 C116.58,422.67 117.25,418.67 118.50,415.00 C119.75,411.33 120.08,406.83 121.50,403.00 C122.92,399.17 124.42,394.75 127.00,392.00 C129.58,389.25 132.83,387.70 137.00,386.50Z" fill="#8fc06e" fill-opacity="0.6" stroke="#8fc06e" stroke-opacity="0.3" stroke-width="0.8"/>
<path d="M143.50,399.50 C145.95,398.58 154.08,399.92 158.00,400.50 C161.92,401.08 164.58,401.50 167.00,403.00 C169.42,404.50 171.17,406.92 172.50,409.50 C173.83,412.08 174.83,415.58 175.00,418.50 C175.17,421.42 174.58,424.83 173.50,427.00 C172.42,429.17 170.33,431.33 168.50,431.50 C166.67,431.67 164.33,430.00 162.50,428.00 C160.67,426.00 159.58,421.58 157.50,419.50 C155.42,417.42 152.08,416.50 150.00,415.50 C147.92,414.50 146.12,415.08 145.00,413.50 C143.88,411.92 143.55,408.33 143.30,406.00 C143.05,403.67 141.05,400.42 143.50,399.50Z" fill="#93c1e9" fill-opacity="0.55"/>
<clipPath id="clipY"><rect x="80" y="392" width="30" height="24"/></clipPath>
<path d="M84.00,404.00 C84.70,401.58 86.00,399.08 88.00,397.50 C90.00,395.92 93.00,394.50 96.00,394.50 C99.00,394.50 102.33,395.25 106.00,397.50 C109.67,399.75 113.83,403.75 118.00,408.00 C122.17,412.25 126.33,418.33 131.00,423.00 C135.67,427.67 140.83,432.67 146.00,436.00 C151.17,439.33 157.67,441.17 162.00,443.00 C166.33,444.83 169.50,444.83 172.00,447.00 C174.50,449.17 176.25,452.67 177.00,456.00 C177.75,459.33 177.67,463.67 176.50,467.00 C175.33,470.33 172.92,473.42 170.00,476.00 C167.08,478.58 163.00,480.80 159.00,482.50 C155.00,484.20 150.33,485.40 146.00,486.20 C141.67,487.00 137.17,487.50 133.00,487.30 C128.83,487.10 124.33,486.55 121.00,485.00 C117.67,483.45 115.17,481.17 113.00,478.00 C110.83,474.83 110.00,470.33 108.00,466.00 C106.00,461.67 103.50,456.67 101.00,452.00 C98.50,447.33 95.42,442.83 93.00,438.00 C90.58,433.17 88.03,427.33 86.50,423.00 C84.97,418.67 84.22,415.17 83.80,412.00 C83.38,408.83 83.30,406.42 84.00,404.00Z" fill="#fcd06e" fill-opacity="0.45" clip-path="url(#clipY)"/>
</g>
<text font-size="7.60" fill="#2a2a2a" stroke="#2a2a2a" stroke-width="0.320" transform="translate(73.48 398.90) scale(1.0000 1)">82</text>
<text font-size="7.60" fill="#2a2a2a" stroke="#2a2a2a" stroke-width="0.320" transform="translate(128.64 371.80) scale(1.0000 1)">115</text>
<text font-size="7.60" fill="#2a2a2a" stroke="#2a2a2a" stroke-width="0.320" transform="translate(174.88 408.60) scale(1.0000 1)">57</text>
<text font-size="7.60" fill="#2a2a2a" stroke="#2a2a2a" stroke-width="0.320" transform="translate(139.38 477.40) scale(1.0000 1)">40</text>
<text font-size="7.60" fill="#2a2a2a" stroke="#2a2a2a" stroke-width="0.320" transform="translate(83.65 466.90) scale(1.0000 1)">106</text>
<text font-size="7.60" fill="#2a2a2a" stroke="#2a2a2a" stroke-width="0.320" transform="translate(103.78 389.30) scale(1.0000 1)">47</text>
<text font-size="7.60" fill="#2a2a2a" stroke="#2a2a2a" stroke-width="0.320" transform="translate(129.18 387.00) scale(1.0000 1)">18</text>
<text font-size="7.60" fill="#2a2a2a" stroke="#2a2a2a" stroke-width="0.320" transform="translate(114.28 399.10) scale(1.0000 1)">14</text>
<text font-size="7.60" fill="#2a2a2a" stroke="#2a2a2a" stroke-width="0.320" transform="translate(139.99 395.10) scale(1.0000 1)">6</text>
<text font-size="7.60" fill="#2a2a2a" stroke="#2a2a2a" stroke-width="0.320" transform="translate(152.88 397.40) scale(1.0000 1)">17</text>
<text font-size="7.60" fill="#2a2a2a" stroke="#2a2a2a" stroke-width="0.320" transform="translate(88.69 411.00) scale(1.0000 1)">9</text>
<text font-size="7.60" fill="#2a2a2a" stroke="#2a2a2a" stroke-width="0.320" transform="translate(100.79 405.50) scale(1.0000 1)">9</text>
<text font-size="7.60" fill="#2a2a2a" stroke="#2a2a2a" stroke-width="0.320" transform="translate(106.89 415.30) scale(1.0000 1)">6</text>
<text font-size="7.60" fill="#2a2a2a" stroke="#2a2a2a" stroke-width="0.320" transform="translate(130.79 406.60) scale(1.0000 1)">6</text>
<text font-size="7.60" fill="#2a2a2a" stroke="#2a2a2a" stroke-width="0.320" transform="translate(145.98 411.80) scale(1.0000 1)">14</text>
<text font-size="7.60" fill="#2a2a2a" stroke="#2a2a2a" stroke-width="0.320" transform="translate(161.68 420.40) scale(1.0000 1)">15</text>
<text font-size="7.60" fill="#2a2a2a" stroke="#2a2a2a" stroke-width="0.320" transform="translate(93.59 426.60) scale(1.0000 1)">3</text>
<text font-size="7.60" fill="#2a2a2a" stroke="#2a2a2a" stroke-width="0.320" transform="translate(79.89 430.90) scale(1.0000 1)">8</text>
<text font-size="7.60" fill="#2a2a2a" stroke="#2a2a2a" stroke-width="0.320" transform="translate(122.28 426.80) scale(1.0000 1)">13</text>
<text font-size="7.60" fill="#2a2a2a" stroke="#2a2a2a" stroke-width="0.320" transform="translate(145.19 423.30) scale(1.0000 1)">8</text>
<text font-size="7.60" fill="#2a2a2a" stroke="#2a2a2a" stroke-width="0.320" transform="translate(159.09 430.90) scale(1.0000 1)">0</text>
<text font-size="7.60" fill="#2a2a2a" stroke="#2a2a2a" stroke-width="0.320" transform="translate(92.69 442.10) scale(1.0000 1)">2</text>
<text font-size="7.60" fill="#2a2a2a" stroke="#2a2a2a" stroke-width="0.320" transform="translate(108.69 439.60) scale(1.0000 1)">0</text>
<text font-size="7.60" fill="#2a2a2a" stroke="#2a2a2a" stroke-width="0.320" transform="translate(94.78 454.60) scale(1.0000 1)">13</text>
<text font-size="7.60" fill="#2a2a2a" stroke="#2a2a2a" stroke-width="0.320" transform="translate(116.59 453.70) scale(1.0000 1)">1</text>
<text font-size="7.60" fill="#2a2a2a" stroke="#2a2a2a" stroke-width="0.320" transform="translate(133.79 444.20) scale(1.0000 1)">5</text>
<text font-size="7.60" fill="#2a2a2a" stroke="#2a2a2a" stroke-width="0.320" transform="translate(148.69 447.70) scale(1.0000 1)">5</text>
<text font-size="7.60" fill="#2a2a2a" stroke="#2a2a2a" stroke-width="0.320" transform="translate(163.19 449.40) scale(1.0000 1)">5</text>
<text font-size="7.60" fill="#2a2a2a" stroke="#2a2a2a" stroke-width="0.320" transform="translate(133.09 457.20) scale(1.0000 1)">4</text>
<text font-size="7.60" fill="#2a2a2a" stroke="#2a2a2a" stroke-width="0.320" transform="translate(143.89 462.00) scale(1.0000 1)">5</text>
<text font-size="7.60" fill="#2a2a2a" stroke="#2a2a2a" stroke-width="0.320" transform="translate(114.48 469.00) scale(1.0000 1)">12</text>
<text x="-20.32" y="2.97" font-size="8.6" fill="#2a2a2a" stroke="#2a2a2a" stroke-width="0.22" transform="translate(68.30 381.80) rotate(-44.50) scale(0.9844 1)">OCI-AML3</text>
<text x="-20.32" y="2.97" font-size="8.6" fill="#2a2a2a" stroke="#2a2a2a" stroke-width="0.22" transform="translate(154.60 358.80) rotate(25.60) scale(0.9844 1)">OCI-AML2</text>
<text x="-11.72" y="2.97" font-size="8.6" fill="#2a2a2a" stroke="#2a2a2a" stroke-width="0.22" transform="translate(195.70 396.30) rotate(56.70) scale(1.0454 1)">HL-60</text>
<text x="-15.93" y="2.97" font-size="8.6" fill="#2a2a2a" stroke="#2a2a2a" stroke-width="0.22" transform="translate(158.70 489.60) rotate(-20.50) scale(0.9415 1)">MV-4-11</text>
<text x="-19.11" y="2.97" font-size="8.6" fill="#2a2a2a" stroke="#2a2a2a" stroke-width="0.22" transform="translate(71.40 474.70) rotate(50.00) scale(1.0150 1)">MOLM-13</text>
<rect x="8.1" y="439.2" width="41.5" height="54" fill="#fff" stroke="#3a3a3a" stroke-width="0.9"/>
<line x1="41.0" y1="439.2" x2="72.2" y2="405.4" stroke="#3a3a3a" stroke-width="0.9"/>
<text font-size="7.80" font-style="italic" fill="#2a2a2a" stroke="#2a2a2a" stroke-width="0.253" transform="translate(20.80 448.70) scale(0.8681 1)">TSR3</text>
<text font-size="7.80" font-style="italic" fill="#2a2a2a" stroke="#2a2a2a" stroke-width="0.216" transform="translate(16.10 461.70) scale(1.0163 1)">KPNA2</text>
<text font-size="7.80" font-style="italic" fill="#2a2a2a" stroke="#2a2a2a" stroke-width="0.214" transform="translate(13.30 475.00) scale(1.0302 1)">HOXA13</text>
<text font-size="7.80" font-style="italic" fill="#2a2a2a" stroke="#2a2a2a" stroke-width="0.219" transform="translate(17.90 488.20) scale(1.0068 1)">UNCX</text>
<text font-size="15.10" font-weight="bold" fill="#111" stroke="#111" stroke-width="0.419" transform="translate(252.10 339.10) scale(0.8360 1)">F</text>
<text font-size="10.60" fill="#222" stroke="#222" stroke-width="0.117" transform="translate(348.50 371.90) scale(1.0283 1)">OCI-AML3</text>
<text x="-30.61" y="0" font-size="11.4" fill="#333" stroke="#333" stroke-width="0.12" transform="translate(264.50 407.20) rotate(-90) scale(0.6648 1)">% BFP cells</text>
<text x="-53.55" y="0" font-size="11.4" fill="#333" stroke="#333" stroke-width="0.12" transform="translate(275.70 405.80) rotate(-90) scale(0.7535 1)">(normalized to day 4)</text>
<line x1="304.7" y1="377.7" x2="304.7" y2="435.45" stroke="#111" stroke-width="1.5"/>
<line x1="301.00" y1="434.7" x2="420.0" y2="434.7" stroke="#111" stroke-width="1.5"/>
<line x1="301.00" y1="434.70" x2="304.7" y2="434.70" stroke="#111" stroke-width="1.3"/>
<text font-size="8.20" fill="#333" stroke="#333" stroke-width="0.129" transform="translate(292.57 437.55) scale(0.9300 1)">0</text>
<line x1="301.00" y1="411.75" x2="304.7" y2="411.75" stroke="#111" stroke-width="1.3"/>
<text font-size="8.20" fill="#333" stroke="#333" stroke-width="0.129" transform="translate(288.34 414.60) scale(0.9300 1)">50</text>
<line x1="301.00" y1="388.80" x2="304.7" y2="388.80" stroke="#111" stroke-width="1.3"/>
<text font-size="8.20" fill="#333" stroke="#333" stroke-width="0.129" transform="translate(284.06 391.65) scale(0.9300 1)">100</text>
<line x1="311.62" y1="434.7" x2="311.62" y2="437.80" stroke="#111" stroke-width="1.3"/>
<text font-size="8.20" fill="#333" stroke="#333" stroke-width="0.129" transform="translate(309.50 450.00) scale(0.9300 1)">5</text>
<line x1="346.72" y1="434.7" x2="346.72" y2="437.80" stroke="#111" stroke-width="1.3"/>
<text font-size="8.20" fill="#333" stroke="#333" stroke-width="0.129" transform="translate(342.49 450.00) scale(0.9300 1)">10</text>
<line x1="381.82" y1="434.7" x2="381.82" y2="437.80" stroke="#111" stroke-width="1.3"/>
<text font-size="8.20" fill="#333" stroke="#333" stroke-width="0.129" transform="translate(377.59 450.00) scale(0.9300 1)">15</text>
<line x1="416.92" y1="434.7" x2="416.92" y2="437.80" stroke="#111" stroke-width="1.3"/>
<text font-size="8.20" fill="#333" stroke="#333" stroke-width="0.129" transform="translate(412.69 450.00) scale(0.9300 1)">20</text>
<text font-size="10.50" fill="#333" stroke="#333" stroke-width="0.152" transform="translate(321.70 464.50) scale(0.7912 1)">Days posttransduction</text>
<polyline points="304.60,388.80 339.70,395.00 367.78,403.03 388.84,409.00 409.90,411.06" fill="none" stroke="#988db0" stroke-width="1.2" stroke-linejoin="round"/>
<line x1="339.70" y1="393.39" x2="339.70" y2="397.06" stroke="#988db0" stroke-width="0.8"/>
<line x1="338.50" y1="393.39" x2="340.90" y2="393.39" stroke="#988db0" stroke-width="0.7"/>
<line x1="338.50" y1="397.06" x2="340.90" y2="397.06" stroke="#988db0" stroke-width="0.7"/>
<line x1="367.78" y1="400.27" x2="367.78" y2="405.78" stroke="#988db0" stroke-width="0.8"/>
<line x1="366.58" y1="400.27" x2="368.98" y2="400.27" stroke="#988db0" stroke-width="0.7"/>
<line x1="366.58" y1="405.78" x2="368.98" y2="405.78" stroke="#988db0" stroke-width="0.7"/>
<line x1="388.84" y1="404.41" x2="388.84" y2="412.67" stroke="#988db0" stroke-width="0.8"/>
<line x1="387.64" y1="404.41" x2="390.04" y2="404.41" stroke="#988db0" stroke-width="0.7"/>
<line x1="387.64" y1="412.67" x2="390.04" y2="412.67" stroke="#988db0" stroke-width="0.7"/>
<line x1="409.90" y1="407.62" x2="409.90" y2="414.50" stroke="#988db0" stroke-width="0.8"/>
<line x1="408.70" y1="407.62" x2="411.10" y2="407.62" stroke="#988db0" stroke-width="0.7"/>
<line x1="408.70" y1="414.50" x2="411.10" y2="414.50" stroke="#988db0" stroke-width="0.7"/>
<polyline points="304.60,388.80 339.70,395.41 367.78,404.31 388.84,411.06 409.90,414.37" fill="none" stroke="#2c7d36" stroke-width="1.45" stroke-linejoin="round"/>
<line x1="339.70" y1="393.85" x2="339.70" y2="397.06" stroke="#2c7d36" stroke-width="0.8"/>
<line x1="338.50" y1="393.85" x2="340.90" y2="393.85" stroke="#2c7d36" stroke-width="0.7"/>
<line x1="338.50" y1="397.06" x2="340.90" y2="397.06" stroke="#2c7d36" stroke-width="0.7"/>
<line x1="367.78" y1="402.57" x2="367.78" y2="406.24" stroke="#2c7d36" stroke-width="0.8"/>
<line x1="366.58" y1="402.57" x2="368.98" y2="402.57" stroke="#2c7d36" stroke-width="0.7"/>
<line x1="366.58" y1="406.24" x2="368.98" y2="406.24" stroke="#2c7d36" stroke-width="0.7"/>
<line x1="388.84" y1="409.45" x2="388.84" y2="413.13" stroke="#2c7d36" stroke-width="0.8"/>
<line x1="387.64" y1="409.45" x2="390.04" y2="409.45" stroke="#2c7d36" stroke-width="0.7"/>
<line x1="387.64" y1="413.13" x2="390.04" y2="413.13" stroke="#2c7d36" stroke-width="0.7"/>
<line x1="409.90" y1="411.29" x2="409.90" y2="418.63" stroke="#2c7d36" stroke-width="0.8"/>
<line x1="408.70" y1="411.29" x2="411.10" y2="411.29" stroke="#2c7d36" stroke-width="0.7"/>
<line x1="408.70" y1="418.63" x2="411.10" y2="418.63" stroke="#2c7d36" stroke-width="0.7"/>
<rect x="338.60" y="394.31" width="2.2" height="2.2" fill="#2c7d36"/>
<rect x="366.68" y="403.21" width="2.2" height="2.2" fill="#2c7d36"/>
<rect x="387.74" y="409.96" width="2.2" height="2.2" fill="#2c7d36"/>
<rect x="408.80" y="413.27" width="2.2" height="2.2" fill="#2c7d36"/>
<polyline points="304.60,388.80 339.70,389.21 367.78,390.91 388.84,391.32 409.90,389.49" fill="none" stroke="#43a2d8" stroke-width="1.35" stroke-linejoin="round"/>
<line x1="339.70" y1="388.57" x2="339.70" y2="389.95" stroke="#43a2d8" stroke-width="0.8"/>
<line x1="338.50" y1="388.57" x2="340.90" y2="388.57" stroke="#43a2d8" stroke-width="0.7"/>
<line x1="338.50" y1="389.95" x2="340.90" y2="389.95" stroke="#43a2d8" stroke-width="0.7"/>
<line x1="367.78" y1="389.95" x2="367.78" y2="392.01" stroke="#43a2d8" stroke-width="0.8"/>
<line x1="366.58" y1="389.95" x2="368.98" y2="389.95" stroke="#43a2d8" stroke-width="0.7"/>
<line x1="366.58" y1="392.01" x2="368.98" y2="392.01" stroke="#43a2d8" stroke-width="0.7"/>
<line x1="388.84" y1="390.64" x2="388.84" y2="392.01" stroke="#43a2d8" stroke-width="0.8"/>
<line x1="387.64" y1="390.64" x2="390.04" y2="390.64" stroke="#43a2d8" stroke-width="0.7"/>
<line x1="387.64" y1="392.01" x2="390.04" y2="392.01" stroke="#43a2d8" stroke-width="0.7"/>
<line x1="409.90" y1="388.57" x2="409.90" y2="390.64" stroke="#43a2d8" stroke-width="0.8"/>
<line x1="408.70" y1="388.57" x2="411.10" y2="388.57" stroke="#43a2d8" stroke-width="0.7"/>
<line x1="408.70" y1="390.64" x2="411.10" y2="390.64" stroke="#43a2d8" stroke-width="0.7"/>
<rect x="338.60" y="388.11" width="2.2" height="2.2" fill="#43a2d8"/>
<rect x="366.68" y="389.81" width="2.2" height="2.2" fill="#43a2d8"/>
<rect x="387.74" y="390.22" width="2.2" height="2.2" fill="#43a2d8"/>
<rect x="408.80" y="388.39" width="2.2" height="2.2" fill="#43a2d8"/>
<circle cx="387.40" cy="396.20" r="1.15" fill="#4b9950"/><circle cx="390.95" cy="396.20" r="1.15" fill="#4b9950"/><circle cx="394.50" cy="396.20" r="1.15" fill="#4b9950"/>
<circle cx="389.50" cy="401.90" r="1.15" fill="#9485c0"/><circle cx="391.80" cy="401.90" r="1.15" fill="#9485c0"/>
<circle cx="409.70" cy="400.30" r="1.15" fill="#4b9950"/><circle cx="413.20" cy="400.30" r="1.15" fill="#4b9950"/><circle cx="416.70" cy="400.30" r="1.15" fill="#4b9950"/>
<circle cx="408.30" cy="406.00" r="1.15" fill="#9485c0"/><circle cx="411.53" cy="406.00" r="1.15" fill="#9485c0"/><circle cx="414.77" cy="406.00" r="1.15" fill="#9485c0"/><circle cx="418.00" cy="406.00" r="1.15" fill="#9485c0"/>
<line x1="297.2" y1="478.9" x2="303.3" y2="478.9" stroke="#43a2d8" stroke-width="1.1" opacity="0.8"/><circle cx="300.25" cy="478.9" r="1.0" fill="#43a2d8"/><text font-size="8.60" font-style="italic" fill="#333" stroke="#333" stroke-width="0.122" transform="translate(307.60 481.80) scale(0.9840 1)">gControl</text>
<line x1="347.0" y1="478.9" x2="353.5" y2="478.9" stroke="#2c7d36" stroke-width="1.1" opacity="0.8"/><circle cx="350.25" cy="478.9" r="1.0" fill="#2c7d36"/><text font-size="8.60" font-style="italic" fill="#333" stroke="#333" stroke-width="0.142" transform="translate(357.90 481.80) scale(0.8430 1)">gTSR3 1</text>
<line x1="391.8" y1="478.9" x2="396.8" y2="478.9" stroke="#988db0" stroke-width="1.1" opacity="0.8"/><circle cx="394.30" cy="478.9" r="1.0" fill="#988db0"/><text font-size="8.60" font-style="italic" fill="#333" stroke="#333" stroke-width="0.133" transform="translate(401.50 481.80) scale(0.8990 1)">gTSR3 2</text>
<text font-size="15.10" font-weight="bold" fill="#111" stroke="#111" stroke-width="0.396" transform="translate(9.20 531.20) scale(0.8830 1)">G</text>
<text font-size="10.20" font-style="italic" fill="#222" stroke="#222" stroke-width="0.126" transform="translate(43.10 551.90) scale(0.9510 1)">Npm1</text>
<text font-size="6.60" font-style="italic" fill="#222" stroke="#222" stroke-width="0.082" transform="translate(69.60 547.60) scale(1.4704 1)">cA/+</text>
<text font-size="10.20" font-style="italic" fill="#222" stroke="#222" stroke-width="0.143" transform="translate(90.20 551.90) scale(0.8403 1)">;</text>
<text font-size="10.20" font-style="italic" fill="#222" stroke="#222" stroke-width="0.127" transform="translate(97.70 551.90) scale(0.9480 1)">Flt3</text>
<text font-size="6.60" font-style="italic" fill="#222" stroke="#222" stroke-width="0.088" transform="translate(115.20 547.60) scale(1.3652 1)">ITD/+</text>
<text font-size="10.20" fill="#222" stroke="#222" stroke-width="0.115" transform="translate(140.30 551.90) scale(1.0435 1)">mouse AML</text>
<text x="-30.61" y="0" font-size="11.4" fill="#333" stroke="#333" stroke-width="0.12" transform="translate(18.40 600.00) rotate(-90) scale(0.6812 1)">% BFP cells</text>
<text x="-53.55" y="0" font-size="11.4" fill="#333" stroke="#333" stroke-width="0.12" transform="translate(29.90 599.00) rotate(-90) scale(0.7507 1)">(normalized to day 4)</text>
<line x1="58.2" y1="571.9" x2="58.2" y2="627.45" stroke="#111" stroke-width="1.5"/>
<line x1="54.50" y1="626.7" x2="180.4" y2="626.7" stroke="#111" stroke-width="1.5"/>
<line x1="54.50" y1="626.70" x2="58.2" y2="626.70" stroke="#111" stroke-width="1.3"/>
<text font-size="8.20" fill="#333" stroke="#333" stroke-width="0.129" transform="translate(47.67 629.55) scale(0.9300 1)">0</text>
<line x1="54.50" y1="603.62" x2="58.2" y2="603.62" stroke="#111" stroke-width="1.3"/>
<text font-size="8.20" fill="#333" stroke="#333" stroke-width="0.129" transform="translate(43.44 606.47) scale(0.9300 1)">50</text>
<line x1="54.50" y1="580.53" x2="58.2" y2="580.53" stroke="#111" stroke-width="1.3"/>
<text font-size="8.20" fill="#333" stroke="#333" stroke-width="0.129" transform="translate(39.16 583.38) scale(0.9300 1)">100</text>
<line x1="65.79" y1="626.7" x2="65.79" y2="629.80" stroke="#111" stroke-width="1.3"/>
<text font-size="8.20" fill="#333" stroke="#333" stroke-width="0.129" transform="translate(63.67 642.00) scale(0.9300 1)">5</text>
<line x1="103.24" y1="626.7" x2="103.24" y2="629.80" stroke="#111" stroke-width="1.3"/>
<text font-size="8.20" fill="#333" stroke="#333" stroke-width="0.129" transform="translate(99.01 642.00) scale(0.9300 1)">10</text>
<line x1="140.69" y1="626.7" x2="140.69" y2="629.80" stroke="#111" stroke-width="1.3"/>
<text font-size="8.20" fill="#333" stroke="#333" stroke-width="0.129" transform="translate(136.46 642.00) scale(0.9300 1)">15</text>
<line x1="178.14" y1="626.7" x2="178.14" y2="629.80" stroke="#111" stroke-width="1.3"/>
<text font-size="8.20" fill="#333" stroke="#333" stroke-width="0.129" transform="translate(173.91 642.00) scale(0.9300 1)">20</text>
<text font-size="10.50" fill="#333" stroke="#333" stroke-width="0.150" transform="translate(78.50 656.90) scale(0.7989 1)">Days posttransduction</text>
<polyline points="58.30,580.53 80.77,590.46 118.22,589.76 140.69,595.54 170.65,603.98" fill="none" stroke="#988db0" stroke-width="1.4" stroke-linejoin="round"/>
<line x1="80.77" y1="584.22" x2="80.77" y2="596.23" stroke="#988db0" stroke-width="0.8"/>
<line x1="79.57" y1="584.22" x2="81.97" y2="584.22" stroke="#988db0" stroke-width="0.7"/>
<line x1="79.57" y1="596.23" x2="81.97" y2="596.23" stroke="#988db0" stroke-width="0.7"/>
<line x1="118.22" y1="582.84" x2="118.22" y2="595.30" stroke="#988db0" stroke-width="0.8"/>
<line x1="117.02" y1="582.84" x2="119.42" y2="582.84" stroke="#988db0" stroke-width="0.7"/>
<line x1="117.02" y1="595.30" x2="119.42" y2="595.30" stroke="#988db0" stroke-width="0.7"/>
<line x1="140.69" y1="586.53" x2="140.69" y2="602.69" stroke="#988db0" stroke-width="0.8"/>
<line x1="139.49" y1="586.53" x2="141.89" y2="586.53" stroke="#988db0" stroke-width="0.7"/>
<line x1="139.49" y1="602.69" x2="141.89" y2="602.69" stroke="#988db0" stroke-width="0.7"/>
<line x1="170.65" y1="599.92" x2="170.65" y2="607.31" stroke="#988db0" stroke-width="0.8"/>
<line x1="169.45" y1="599.92" x2="171.85" y2="599.92" stroke="#988db0" stroke-width="0.7"/>
<line x1="169.45" y1="607.31" x2="171.85" y2="607.31" stroke="#988db0" stroke-width="0.7"/>
<polyline points="58.30,580.53 80.77,592.16 118.22,592.16 140.69,601.08 170.65,604.08" fill="none" stroke="#33893a" stroke-width="1.4" stroke-linejoin="round"/>
<line x1="80.77" y1="588.84" x2="80.77" y2="595.30" stroke="#33893a" stroke-width="0.8"/>
<line x1="79.57" y1="588.84" x2="81.97" y2="588.84" stroke="#33893a" stroke-width="0.7"/>
<line x1="79.57" y1="595.30" x2="81.97" y2="595.30" stroke="#33893a" stroke-width="0.7"/>
<line x1="118.22" y1="589.30" x2="118.22" y2="595.30" stroke="#33893a" stroke-width="0.8"/>
<line x1="117.02" y1="589.30" x2="119.42" y2="589.30" stroke="#33893a" stroke-width="0.7"/>
<line x1="117.02" y1="595.30" x2="119.42" y2="595.30" stroke="#33893a" stroke-width="0.7"/>
<line x1="140.69" y1="596.69" x2="140.69" y2="605.92" stroke="#33893a" stroke-width="0.8"/>
<line x1="139.49" y1="596.69" x2="141.89" y2="596.69" stroke="#33893a" stroke-width="0.7"/>
<line x1="139.49" y1="605.92" x2="141.89" y2="605.92" stroke="#33893a" stroke-width="0.7"/>
<line x1="170.65" y1="600.38" x2="170.65" y2="609.62" stroke="#33893a" stroke-width="0.8"/>
<line x1="169.45" y1="600.38" x2="171.85" y2="600.38" stroke="#33893a" stroke-width="0.7"/>
<line x1="169.45" y1="609.62" x2="171.85" y2="609.62" stroke="#33893a" stroke-width="0.7"/>
<rect x="79.67" y="591.06" width="2.2" height="2.2" fill="#33893a"/>
<rect x="117.12" y="591.06" width="2.2" height="2.2" fill="#33893a"/>
<rect x="139.59" y="599.98" width="2.2" height="2.2" fill="#33893a"/>
<rect x="169.55" y="602.98" width="2.2" height="2.2" fill="#33893a"/>
<polyline points="58.30,580.53 80.77,580.53 118.22,580.53 140.69,580.53 170.65,580.53" fill="none" stroke="#4aa8dc" stroke-width="1.3" stroke-linejoin="round"/>
<rect x="79.67" y="579.43" width="2.2" height="2.2" fill="#4aa8dc"/>
<rect x="117.12" y="579.43" width="2.2" height="2.2" fill="#4aa8dc"/>
<rect x="139.59" y="579.43" width="2.2" height="2.2" fill="#4aa8dc"/>
<rect x="169.55" y="579.43" width="2.2" height="2.2" fill="#4aa8dc"/>
<circle cx="169.10" cy="588.50" r="1.15" fill="#4b9950"/><circle cx="172.40" cy="588.50" r="1.15" fill="#4b9950"/><circle cx="175.70" cy="588.50" r="1.15" fill="#4b9950"/>
<circle cx="170.40" cy="594.20" r="1.15" fill="#9485c0"/><circle cx="173.40" cy="594.20" r="1.15" fill="#9485c0"/>
<line x1="55.4" y1="670.8" x2="60.9" y2="670.8" stroke="#43a2d8" stroke-width="1.1" opacity="0.8"/><circle cx="58.15" cy="670.8" r="1.0" fill="#43a2d8"/><text font-size="8.60" font-style="italic" fill="#333" stroke="#333" stroke-width="0.118" transform="translate(64.60 673.70) scale(1.0146 1)">gControl</text>
<line x1="106.2" y1="670.8" x2="111.4" y2="670.8" stroke="#2c7d36" stroke-width="1.1" opacity="0.8"/><circle cx="108.80" cy="670.8" r="1.0" fill="#2c7d36"/><text font-size="8.60" font-style="italic" fill="#333" stroke="#333" stroke-width="0.126" transform="translate(114.50 673.70) scale(0.9514 1)">gTsr3 1</text>
<line x1="149.2" y1="670.8" x2="154.5" y2="670.8" stroke="#988db0" stroke-width="1.1" opacity="0.8"/><circle cx="151.85" cy="670.8" r="1.0" fill="#988db0"/><text font-size="8.60" font-style="italic" fill="#333" stroke="#333" stroke-width="0.130" transform="translate(158.50 673.70) scale(0.9197 1)">gTsr3 2</text>
<text font-size="15.10" font-weight="bold" fill="#111" stroke="#111" stroke-width="0.388" transform="translate(252.10 531.20) scale(0.9014 1)">H</text>
<text font-size="10.40" fill="#222" stroke="#222" stroke-width="0.115" transform="translate(347.30 552.80) scale(1.0480 1)">32D</text>
<text x="-30.61" y="0" font-size="11.4" fill="#333" stroke="#333" stroke-width="0.12" transform="translate(261.70 599.70) rotate(-90) scale(0.6926 1)">% BFP cells</text>
<text x="-53.55" y="0" font-size="11.4" fill="#333" stroke="#333" stroke-width="0.12" transform="translate(272.20 598.50) rotate(-90) scale(0.7469 1)">(normalized to day 4)</text>
<line x1="301.5" y1="571.5" x2="301.5" y2="627.25" stroke="#111" stroke-width="1.5"/>
<line x1="297.80" y1="626.5" x2="414.6" y2="626.5" stroke="#111" stroke-width="1.5"/>
<line x1="297.80" y1="626.50" x2="301.5" y2="626.50" stroke="#111" stroke-width="1.3"/>
<text font-size="8.20" fill="#333" stroke="#333" stroke-width="0.129" transform="translate(289.97 629.35) scale(0.9300 1)">0</text>
<line x1="297.80" y1="601.50" x2="301.5" y2="601.50" stroke="#111" stroke-width="1.3"/>
<text font-size="8.20" fill="#333" stroke="#333" stroke-width="0.129" transform="translate(285.74 604.35) scale(0.9300 1)">50</text>
<line x1="297.80" y1="576.50" x2="301.5" y2="576.50" stroke="#111" stroke-width="1.3"/>
<text font-size="8.20" fill="#333" stroke="#333" stroke-width="0.129" transform="translate(281.46 579.35) scale(0.9300 1)">100</text>
<line x1="310.98" y1="626.5" x2="310.98" y2="629.60" stroke="#111" stroke-width="1.3"/>
<text font-size="8.20" fill="#333" stroke="#333" stroke-width="0.129" transform="translate(308.86 641.80) scale(0.9300 1)">5</text>
<line x1="357.88" y1="626.5" x2="357.88" y2="629.60" stroke="#111" stroke-width="1.3"/>
<text font-size="8.20" fill="#333" stroke="#333" stroke-width="0.129" transform="translate(353.65 641.80) scale(0.9300 1)">10</text>
<line x1="404.78" y1="626.5" x2="404.78" y2="629.60" stroke="#111" stroke-width="1.3"/>
<text font-size="8.20" fill="#333" stroke="#333" stroke-width="0.129" transform="translate(400.55 641.80) scale(0.9300 1)">15</text>
<text font-size="10.50" fill="#333" stroke="#333" stroke-width="0.150" transform="translate(316.20 656.20) scale(0.8018 1)">Days posttransduction</text>
<polyline points="301.60,576.50 329.74,576.90 376.64,578.00 404.78,577.50" fill="none" stroke="#2c7d36" stroke-width="1.6" stroke-linejoin="round"/>
<line x1="329.74" y1="575.50" x2="329.74" y2="578.50" stroke="#2c7d36" stroke-width="0.8"/>
<line x1="328.54" y1="575.50" x2="330.94" y2="575.50" stroke="#2c7d36" stroke-width="0.7"/>
<line x1="328.54" y1="578.50" x2="330.94" y2="578.50" stroke="#2c7d36" stroke-width="0.7"/>
<line x1="376.64" y1="574.50" x2="376.64" y2="580.50" stroke="#2c7d36" stroke-width="0.8"/>
<line x1="375.44" y1="574.50" x2="377.84" y2="574.50" stroke="#2c7d36" stroke-width="0.7"/>
<line x1="375.44" y1="580.50" x2="377.84" y2="580.50" stroke="#2c7d36" stroke-width="0.7"/>
<line x1="404.78" y1="576.50" x2="404.78" y2="578.25" stroke="#2c7d36" stroke-width="0.8"/>
<line x1="403.58" y1="576.50" x2="405.98" y2="576.50" stroke="#2c7d36" stroke-width="0.7"/>
<line x1="403.58" y1="578.25" x2="405.98" y2="578.25" stroke="#2c7d36" stroke-width="0.7"/>
<rect x="328.64" y="575.80" width="2.2" height="2.2" fill="#2c7d36"/>
<rect x="375.54" y="576.90" width="2.2" height="2.2" fill="#2c7d36"/>
<rect x="403.68" y="576.40" width="2.2" height="2.2" fill="#2c7d36"/>
<polyline points="301.60,576.50 329.74,576.50 376.64,577.00 404.78,577.10" fill="none" stroke="#3fa8cf" stroke-width="1.7" stroke-linejoin="round"/>
<line x1="329.74" y1="575.00" x2="329.74" y2="578.00" stroke="#3fa8cf" stroke-width="0.8"/>
<line x1="328.54" y1="575.00" x2="330.94" y2="575.00" stroke="#3fa8cf" stroke-width="0.7"/>
<line x1="328.54" y1="578.00" x2="330.94" y2="578.00" stroke="#3fa8cf" stroke-width="0.7"/>
<line x1="376.64" y1="575.00" x2="376.64" y2="579.00" stroke="#3fa8cf" stroke-width="0.8"/>
<line x1="375.44" y1="575.00" x2="377.84" y2="575.00" stroke="#3fa8cf" stroke-width="0.7"/>
<line x1="375.44" y1="579.00" x2="377.84" y2="579.00" stroke="#3fa8cf" stroke-width="0.7"/>
<rect x="328.64" y="575.40" width="2.2" height="2.2" fill="#3fa8cf"/>
<rect x="375.54" y="575.90" width="2.2" height="2.2" fill="#3fa8cf"/>
<rect x="403.68" y="576.00" width="2.2" height="2.2" fill="#3fa8cf"/>
<line x1="317.5" y1="670.5" x2="323.0" y2="670.5" stroke="#43a2d8" stroke-width="1.1" opacity="0.8"/><circle cx="320.25" cy="670.5" r="1.0" fill="#43a2d8"/><text font-size="8.60" font-style="italic" fill="#333" stroke="#333" stroke-width="0.121" transform="translate(327.50 673.40) scale(0.9932 1)">gControl</text>
<line x1="367.5" y1="670.5" x2="372.5" y2="670.5" stroke="#2c7d36" stroke-width="1.1" opacity="0.8"/><circle cx="370.00" cy="670.5" r="1.0" fill="#2c7d36"/><text font-size="8.60" font-style="italic" fill="#333" stroke="#333" stroke-width="0.127" transform="translate(377.00 673.40) scale(0.9434 1)">gTsr3</text>
<rect x="0.5" y="0.5" width="519" height="683" fill="none" stroke="#454545" stroke-width="1"/>
</svg>
</body></html>
